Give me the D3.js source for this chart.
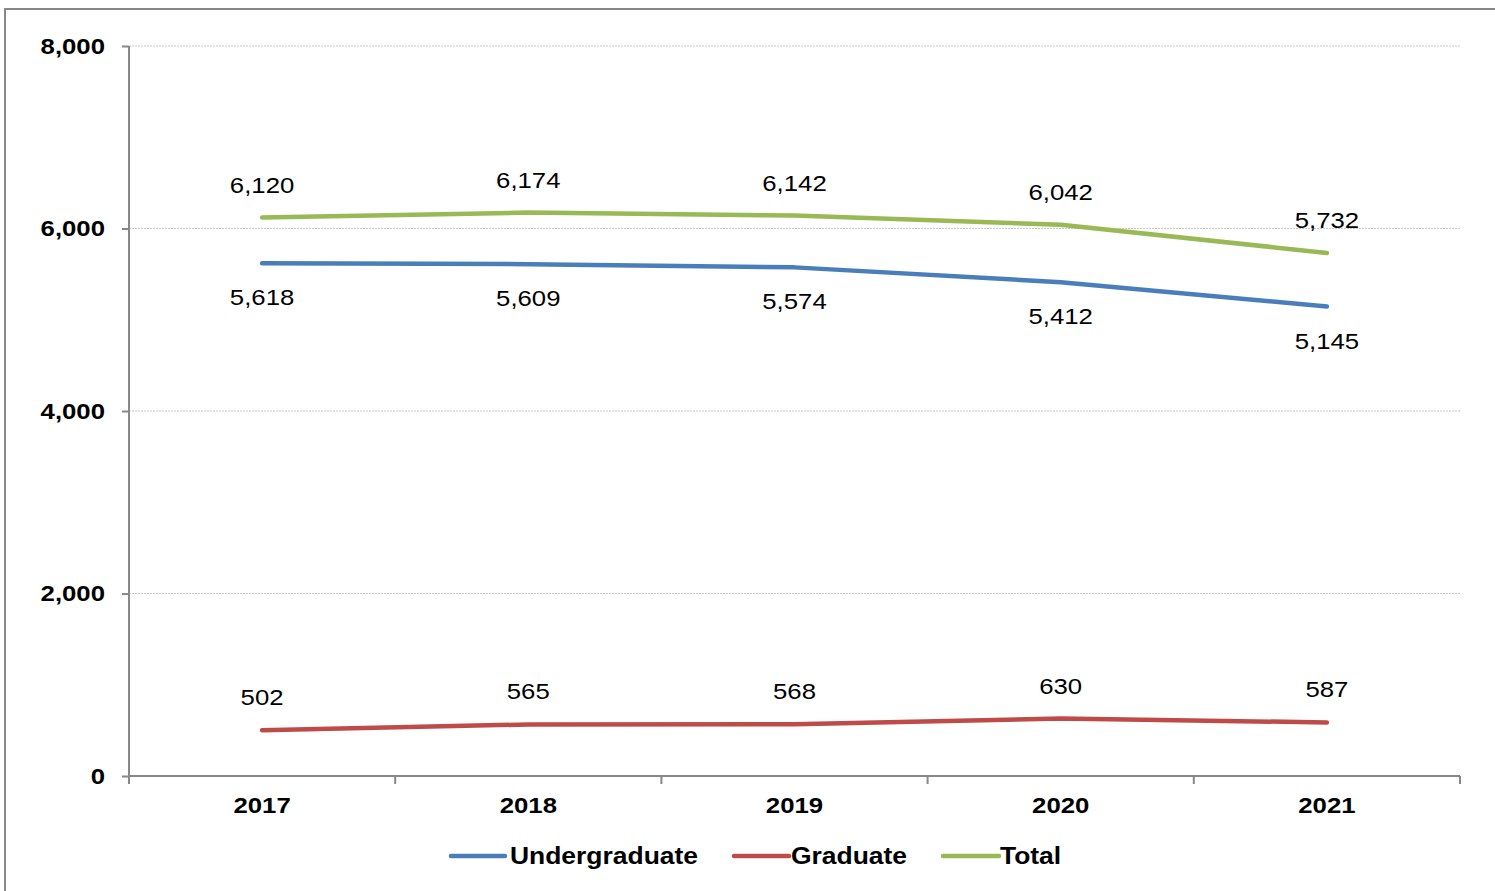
<!DOCTYPE html>
<html><head><meta charset="utf-8">
<script src="https://cdn.jsdelivr.net/npm/d3@7"></script>
<style>body{margin:0;background:#fff}svg{display:block}text{font-family:"Liberation Sans",Arial,sans-serif}</style>
</head><body>
<script>
const years = ["2017","2018","2019","2020","2021"];
const undergraduate = [5618,5609,5574,5412,5145];
const graduate = [502,565,568,630,587];
const total = [6120,6174,6142,6042,5732];
const yTicks = [0,2000,4000,6000,8000];
const seriesNames = ["Undergraduate","Graduate","Total"];
const seriesColors = ["#4a7ebb","#be4b48","#98b954"];
const labelOffsets = [35,-32,-32];

const W=1495,H=891;
const svg=d3.select("body").append("svg").attr("width",W).attr("height",H);
svg.append("rect").attr("x",5).attr("y",9).attr("width",W+10).attr("height",H+10)
  .attr("fill","none").attr("stroke","#888").attr("stroke-width",2);

function stretch(sel, s=1.12){
  sel.each(function(){
    const t=d3.select(this); const x=+t.attr("x")||0;
    t.attr("transform",`translate(${x},0) scale(${s},1) translate(${-x},0)`);
  });
}

const L=129,R=1460,T=46,B=776;
const x=d3.scaleBand().domain(years).range([L,R]).padding(0);
const y=d3.scaleLinear().domain([0,8000]).range([B,T]);

svg.append("g").selectAll("line").data(yTicks.filter(d=>d>0)).join("line")
  .attr("x1",L).attr("x2",R).attr("y1",d=>y(d)).attr("y2",d=>y(d))
  .attr("stroke","#c8c8c8").attr("stroke-width",1).attr("stroke-dasharray","2,1");

const ya=svg.append("g").attr("transform",`translate(${L},0)`)
  .call(d3.axisLeft(y).tickValues(yTicks).tickSize(7).tickPadding(17).tickFormat(d3.format(",")));
ya.select(".domain").attr("stroke","#888").attr("stroke-width",2).attr("d",`M0,${T}V${B}`);
ya.selectAll(".tick line").attr("stroke","#888").attr("stroke-width",2);
ya.selectAll(".tick text").attr("font-size",23).attr("font-weight","bold").attr("fill","#000")
  .attr("font-family","'Liberation Sans',Arial,sans-serif").call(stretch);

const xa=svg.append("g").attr("transform",`translate(0,${B})`)
  .call(d3.axisBottom(x).tickSize(0).tickPadding(21));
xa.select(".domain").attr("stroke","#888").attr("stroke-width",2).attr("d",`M${L},0H${R}`);
xa.selectAll(".tick text").attr("font-size",23).attr("font-weight","bold").attr("fill","#000")
  .attr("font-family","'Liberation Sans',Arial,sans-serif").call(stretch);
const bounds=years.map(d=>x(d)).concat([R]);
svg.append("g").selectAll("line").data(bounds).join("line")
  .attr("x1",d=>d).attr("x2",d=>d).attr("y1",B).attr("y2",B+8)
  .attr("stroke","#888").attr("stroke-width",2);

const cx=d=>x(d)+x.bandwidth()/2;
const allSeries=[undergraduate,graduate,total];
const line=d3.line().x((d,i)=>cx(years[i])).y(d=>y(d));
allSeries.forEach((s,k)=>{
  svg.append("path").datum(s).attr("d",line).attr("fill","none")
    .attr("stroke",seriesColors[k]).attr("stroke-width",4.5).attr("stroke-linecap","round").attr("stroke-linejoin","round");
});
allSeries.forEach((s,k)=>{
  svg.append("g").selectAll("text").data(s).join("text")
    .attr("x",(d,i)=>cx(years[i])).attr("y",d=>y(d)+labelOffsets[k]-1)
    .attr("dy","0.35em").attr("text-anchor","middle").attr("font-size",23).attr("fill","#000")
    .text(d=>d3.format(",")(d)).call(stretch);
});

const legendItems=[{x1:451,x2:505,tx:510},{x1:734,x2:789,tx:791},{x1:943,x2:999,tx:1000}];
const LY=856;
legendItems.forEach((it,k)=>{
  svg.append("line").attr("x1",it.x1).attr("x2",it.x2).attr("y1",LY).attr("y2",LY)
    .attr("stroke",seriesColors[k]).attr("stroke-width",4.5).attr("stroke-linecap","round");
  svg.append("text").attr("x",it.tx).attr("y",LY).attr("dy","0.35em").attr("font-size",23)
    .attr("font-weight","bold").attr("fill","#000").text(seriesNames[k]).call(stretch,1.15);
});
</script>
</body></html>
